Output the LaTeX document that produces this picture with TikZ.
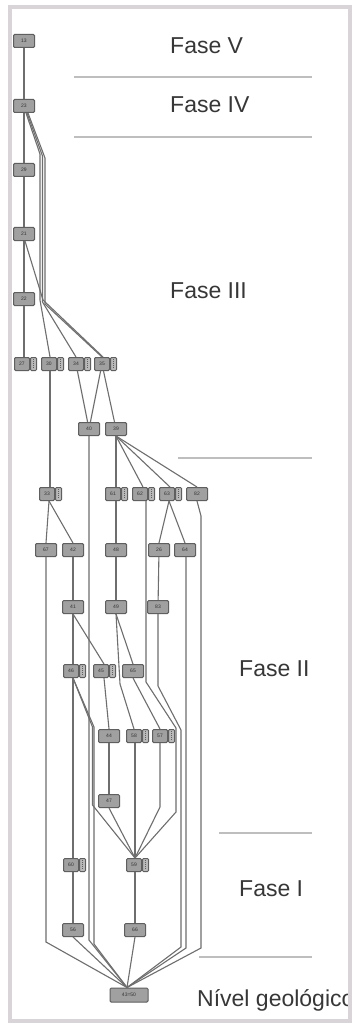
\documentclass[tikz,border=0pt]{standalone}
\usepackage{fontspec}
\setmainfont{Liberation Sans}
\setsansfont{Liberation Sans}
\usetikzlibrary{calc}
\definecolor{framegray}{RGB}{216,212,216}
\definecolor{sepgray}{RGB}{190,190,190}
\definecolor{boxfill}{RGB}{160,160,160}
\definecolor{boxside}{RGB}{185,185,185}
\definecolor{boxline}{RGB}{95,95,95}
\definecolor{linkgray}{RGB}{110,110,110}
\definecolor{phasetext}{RGB}{55,55,55}
\tikzset{
  hm/.style={draw=boxline, fill=boxfill, rounded corners=1.2pt, line width=1pt,
    minimum width=21pt, minimum height=13pt, inner sep=0pt,
    font=\fontsize{5}{5}\selectfont, text=black!80},
  hmmain/.style={hm, minimum width=15pt},
  hmside/.style={draw=boxline, fill=boxside, rounded corners=1pt, line width=1pt,
    minimum width=6pt, minimum height=13pt, inner sep=0pt, anchor=west},
  link/.style={draw=linkgray, line width=1.1pt},
  sepline/.style={draw=sepgray, line width=1.5pt},
  phase/.style={font=\fontsize{23}{23}\selectfont, text=phasetext, anchor=base west, inner sep=0pt},
}
% unit context: stratigraphic unit with an attached side compartment
\newcommand\splitunit[3]{%
  \node[hmmain] (#1) at (#2) {#3};
  \node[hmside] (#1s) at (#1.east) {};
  \draw[boxline, line width=0.5pt, dash pattern=on 1pt off 1pt] ([yshift=-2pt]#1s.north) -- ([yshift=2pt]#1s.south);
}
\begin{document}
\begin{tikzpicture}[x=1pt, y=-1pt]
\useasboundingbox (0,0) rectangle (353,1024);
\fill[white] (0,0) rectangle (353,1024);

% phase labels and separators
\node[phase] (fV) at (170,54) {Fase V};
\node[phase] (fIV) at (170,113) {Fase IV};
\node[phase] (fIII) at (170,298) {Fase III};
\node[phase] (fII) at (239,676) {Fase II};
\node[phase] (fI) at (239,896) {Fase I};
\begin{scope}
  \clip (0,0) rectangle (348,1024);
  \node[phase] (fN) at (197,1006) {Nível geológico};
\end{scope}
\draw[sepline] (74,77) -- (312,77);
\draw[sepline] (74,137) -- (312,137);
\draw[sepline] (178,458) -- (312,458);
\draw[sepline] (219,833) -- (312,833);
\draw[sepline] (199,957) -- (312,957);

% units
\node[hm] (n13) at (24,41) {13};
\node[hm] (n23) at (24,106) {23};
\node[hm] (n29) at (24,170) {29};
\node[hm] (n21) at (24,234) {21};
\node[hm] (n22) at (24,299) {22};
\splitunit{n27}{22,364}{27}
\splitunit{n30}{49,364}{30}
\splitunit{n34}{76,364}{34}
\splitunit{n35}{102,364}{35}
\node[hm] (n40) at (89,429) {40};
\node[hm] (n39) at (116,429) {39};
\splitunit{n33}{47,494}{33}
\splitunit{n61}{113,494}{61}
\splitunit{n62}{140,494}{62}
\splitunit{n63}{167,494}{63}
\node[hm] (n82) at (197,494) {82};
\node[hm] (n67) at (46,550) {67};
\node[hm] (n42) at (73,550) {42};
\node[hm] (n48) at (116,550) {48};
\node[hm] (n26) at (159,550) {26};
\node[hm] (n64) at (185,550) {64};
\node[hm] (n41) at (73,607) {41};
\node[hm] (n49) at (116,607) {49};
\node[hm] (n83) at (158,607) {83};
\splitunit{n46}{71,671}{46}
\splitunit{n45}{101,671}{45}
\node[hm] (n65) at (133,671) {65};
\node[hm] (n44) at (109,736) {44};
\splitunit{n58}{134,736}{58}
\splitunit{n57}{160,736}{57}
\node[hm] (n47) at (109,801) {47};
\splitunit{n60}{71,865}{60}
\splitunit{n59}{134,865}{59}
\node[hm] (n56) at (73,930) {56};
\node[hm] (n66) at (135,930) {66};
\node[hm, minimum width=38pt, minimum height=14pt] (n4350) at (129,995) {43=50};

\coordinate (in4350) at ([xshift=-2pt]n4350.north);
\coordinate (in59) at ([xshift=1pt]n59.north);

% upper sequence
\draw[link] (n13) -- (n23);
\draw[link] (n23) -- (n29);
\draw[link] (n29) -- (n21);
\draw[link] (n21) -- (n22);
\draw[link] (n22) -- (n22 |- n27.north);
\draw[link] ([xshift=2pt]n23.south) -- (40,154) -- (40,300) -- ([xshift=1pt]n30.north);
\draw[link] ([xshift=3pt]n23.south) -- (42.5,156) -- (42.5,302) -- (n34.north);
\draw[link] ([xshift=4pt]n23.south) -- (45,158) -- (45,304) -- (n35.north);
\draw[link] ([xshift=1pt]n21.south) -- (43,300) -- ([xshift=1pt]n35.north);
\draw[link] ([xshift=1pt]n30.south) -- ([xshift=1pt]n30.south |- n33.north);
\draw[link] (n34) -- (n40);
\draw[link] (n35) -- (n40);
\draw[link] (n35) -- (n39);

% middle sequence
\draw[link] (n40.south) -- (89,940) -- (in4350);
\draw[link] (n39.south) -- (n39.south |- n61.north);
\draw[link] (n39.south) -- ([xshift=3pt]n62.north);
\draw[link] (n39.south) -- ([xshift=3pt]n63.north);
\draw[link] (n39.south) -- (n82.north);
\draw[link] ([xshift=2pt]n33.south) -- (n67.north);
\draw[link] ([xshift=2pt]n33.south) -- (n42.north);
\draw[link] (n48.north |- n61.south) -- (n48.north);
\draw[link] ([xshift=6pt]n62.south) -- (146,682) -- (176,728) -- (176,812) -- (in59);
\draw[link] ([xshift=2pt]n63.south) -- (n26.north);
\draw[link] ([xshift=2pt]n63.south) -- (n64.north);
\draw[link] (n82.south) -- (201,516) -- (201,948) -- (in4350);
\draw[link] (n26) -- (n83);
\draw[link] (n83.south) -- (158,686) -- (181,730) -- (181,947) -- (in4350);
\draw[link] ([xshift=1pt]n64.south) -- (186,948) -- (in4350);
\draw[link] (n67.south) -- (46,942) -- (in4350);
\draw[link] (n42) -- (n41);
\draw[link] (n41.south) -- (n41.south |- n46.north);
\draw[link] (n41.south) -- ([xshift=3pt]n45.north);
\draw[link] (n48) -- (n49);
\draw[link] (n49.south) -- (n65.north);
\draw[link] (n49.south) -- (120,684) -- (n58.north);
\draw[link] ([xshift=2pt]n46.south) -- ([xshift=2pt]n46.south |- n60.north);
\draw[link] ([xshift=2pt]n46.south) -- (92.5,727) -- (92.5,805) -- (in59);
\draw[link] ([xshift=2pt]n46.south) -- (94,727) -- (94,944) -- (in4350);
\draw[link] ([xshift=3pt]n45.south) -- (n44.north);
\draw[link] (n65.south) -- (n57.north);

% lower sequence
\draw[link] (n44) -- (n47);
\draw[link] ([xshift=1pt]n58.south) -- (in59);
\draw[link] (n57.south) -- (160,807) -- (in59);
\draw[link] (n47.south) -- (in59);
\draw[link] (n56.north |- n60.south) -- (n56.north);
\draw[link] ([xshift=1pt]n59.south) -- (n66.north);
\draw[link] (n56.south) -- (in4350);
\draw[link] (n66.south) -- (in4350);

% outer frame
\draw[framegray, line width=4pt] (10,7.5) rectangle (349.5,1021);
\end{tikzpicture}
\end{document}
